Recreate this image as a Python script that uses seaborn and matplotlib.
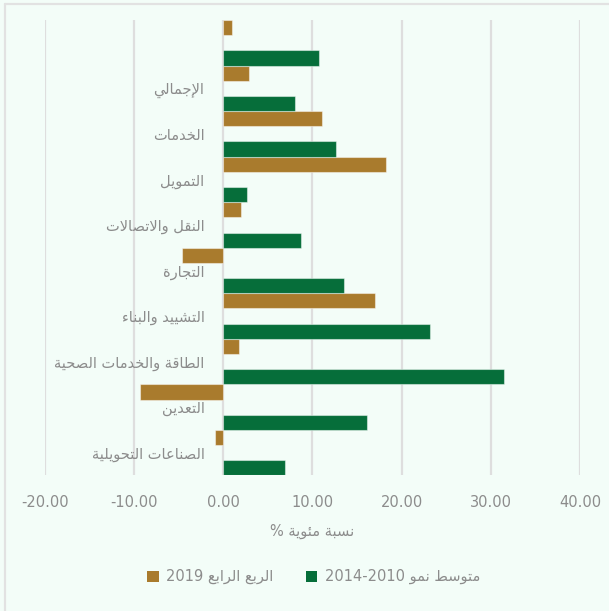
import matplotlib
matplotlib.use('Agg')
import matplotlib.pyplot as plt
import seaborn as sns
import pandas as pd
from matplotlib.patches import Patch
from matplotlib.lines import Line2D

# data (top category has no visible label in the original)
categories = ['', 'الإجمالي', 'الخدمات', 'التمويل', 'النقل والاتصالات', 'التجارة',
              'التشييد والبناء', 'الطاقة والخدمات الصحية', 'التعدين', 'الصناعات التحويلية']
q4_2019 = [1.0, 2.9, 11.1, 18.3, 2.0, -4.6, 17.0, 1.8, -9.3, -0.9]
avg_2010_2014 = [10.7, 8.0, 12.6, 2.7, 8.7, 13.5, 23.2, 31.5, 16.1, 6.9]
series_names = ['الربع الرابع 2019', 'متوسط نمو 2014-2010']
x_ticks = [-20, -10, 0, 10, 20, 30, 40]
x_title = 'نسبة مئوية %'

gold = '#a97b2d'
green = '#066e3a'
bg = '#f3fdf8'
txt = '#8c8c8c'

# matplotlib has no arabic shaping, so do it by hand
DUAL = {'ئ': 0xFE89, 'ب': 0xFE8F, 'ت': 0xFE95, 'ث': 0xFE99, 'ج': 0xFE9D, 'ح': 0xFEA1,
        'خ': 0xFEA5, 'س': 0xFEB1, 'ش': 0xFEB5, 'ص': 0xFEB9, 'ض': 0xFEBD, 'ط': 0xFEC1,
        'ظ': 0xFEC5, 'ع': 0xFEC9, 'غ': 0xFECD, 'ف': 0xFED1, 'ق': 0xFED5, 'ك': 0xFED9,
        'ل': 0xFEDD, 'م': 0xFEE1, 'ن': 0xFEE5, 'ه': 0xFEE9, 'ي': 0xFEF1}
RIGHT = {'آ': 0xFE81, 'أ': 0xFE83, 'ؤ': 0xFE85, 'إ': 0xFE87, 'ا': 0xFE8D, 'ة': 0xFE93,
         'د': 0xFEA9, 'ذ': 0xFEAB, 'ر': 0xFEAD, 'ز': 0xFEAF, 'و': 0xFEED, 'ى': 0xFEEF}
LAM_ALEF = {'ا': 0xFEFB, 'أ': 0xFEF7, 'إ': 0xFEF9, 'آ': 0xFEF5}


def shape_word(w):
    out = []
    i = 0
    prev_joins = False
    while i < len(w):
        c = w[i]
        if c == 'ل' and i + 1 < len(w) and w[i + 1] in LAM_ALEF:
            out.append(chr(LAM_ALEF[w[i + 1]] + (1 if prev_joins else 0)))
            prev_joins = False
            i += 2
            continue
        nxt = w[i + 1] if i + 1 < len(w) else ''
        nxt_ok = nxt in DUAL or nxt in RIGHT
        if c in DUAL:
            if prev_joins and nxt_ok:
                f = 3
            elif prev_joins:
                f = 1
            elif nxt_ok:
                f = 2
            else:
                f = 0
            out.append(chr(DUAL[c] + f))
            prev_joins = nxt_ok
        elif c in RIGHT:
            out.append(chr(RIGHT[c] + (1 if prev_joins else 0)))
            prev_joins = False
        elif c == 'ء':
            out.append(chr(0xFE80))
            prev_joins = False
        else:
            out.append(c)
            prev_joins = False
        i += 1
    return ''.join(out)


def ar(text):
    vis = []
    for w in reversed(text.split(' ')):
        if any('\u0600' <= ch <= '\u06ff' for ch in w):
            vis.append(shape_word(w)[::-1])
        else:
            vis.append(w)
    return ' '.join(vis)


# long table, with an empty spacer level between the two series
rows = []
for c, a, b in zip(categories, q4_2019, avg_2010_2014):
    rows.append((c, series_names[0], a))
    rows.append((c, 'gap', 0.0))
    rows.append((c, series_names[1], b))
df = pd.DataFrame(rows, columns=['category', 'series', 'value'])

sns.set_style('white')
plt.rcParams['font.family'] = ['DejaVu Sans']

fig = plt.figure(figsize=(6.09, 6.11), dpi=100, facecolor=bg)
ax = fig.add_axes([0.0734, 0.2218, 0.879, 0.7455])
ax.set_facecolor(bg)

sns.barplot(data=df, x='value', y='category', hue='series',
            hue_order=[series_names[0], 'gap', series_names[1]],
            palette={series_names[0]: gold, 'gap': bg, series_names[1]: green},
            order=categories, width=1, orient='h', errorbar=None, saturation=1,
            legend=False, ax=ax, zorder=3)

for p in ax.patches:
    if abs(p.get_width()) < 1e-9:
        p.set_linewidth(0)
    else:
        p.set_edgecolor((1, 1, 1, 0.45))
        p.set_linewidth(0.8)

ax.set_xlim(-20, 40)
ax.set_ylim(9.5, -0.5)
ax.set_xticks(x_ticks)
ax.set_xticklabels([f'{v:.2f}' for v in x_ticks])
ax.set_yticks(range(len(categories)))
ax.set_yticklabels([ar(c) for c in categories])
ax.xaxis.grid(True, color='#dedede', linewidth=1.6, zorder=0)
ax.set_axisbelow(True)
ax.yaxis.grid(False)
for s in ax.spines.values():
    s.set_visible(False)

ax.tick_params(axis='x', length=0, pad=14, labelsize=10.5, labelcolor=txt)
ax.tick_params(axis='y', length=0, pad=-115, labelsize=10.5, labelcolor=txt)
ax.set_ylabel('')
ax.set_xlabel(ar(x_title), fontsize=10.5, color=txt, labelpad=10)

handles = [Patch(facecolor=gold, edgecolor='none'), Patch(facecolor=green, edgecolor='none')]
fig.legend(handles, [ar(s) for s in series_names], loc='center',
           bbox_to_anchor=(0.515, 0.056), ncol=2, frameon=False,
           handlelength=0.8, handleheight=0.8, handletextpad=0.5,
           columnspacing=2.2, fontsize=10.5, labelcolor=txt)

# light frame on top and left
fig.add_artist(Line2D([0.009, 0.009], [0, 0.994], transform=fig.transFigure,
                      color='#e2e2e2', linewidth=1.6))
fig.add_artist(Line2D([0.009, 1], [0.994, 0.994], transform=fig.transFigure,
                      color='#e2e2e2', linewidth=1.6))

fig.savefig('out.png', dpi=100, facecolor=bg)
